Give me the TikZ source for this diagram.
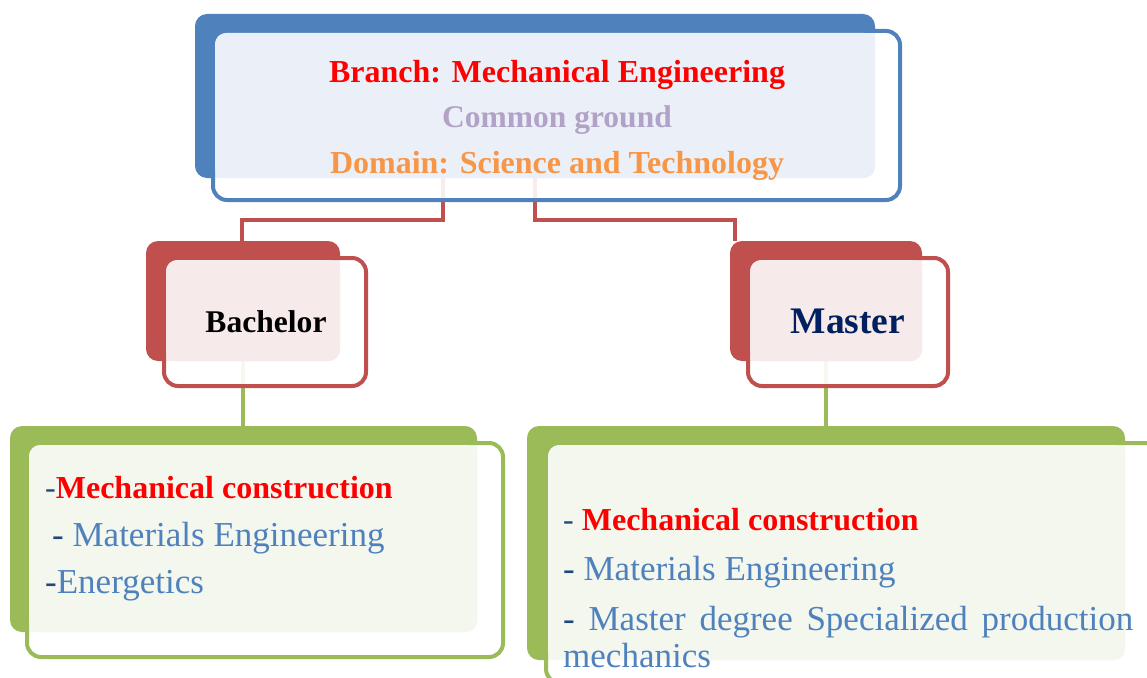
\documentclass[tikz,border=0pt]{standalone}
\usepackage{fontspec}
\setmainfont{Liberation Serif}
\usepackage{xcolor}
\usetikzlibrary{calc}

\definecolor{accblue}{HTML}{4F81BD}
\definecolor{tintblue}{HTML}{EBF0F8}
\definecolor{accred}{HTML}{C0504D}
\definecolor{tintred}{HTML}{F6EAEA}
\definecolor{accgreen}{HTML}{9BBB59}
\definecolor{tintgreen}{HTML}{F3F7EE}
\definecolor{lavender}{HTML}{B3A2C7}
\definecolor{orangeacc}{HTML}{F79646}
\definecolor{navy}{HTML}{002060}
\definecolor{dashcol}{HTML}{1F497D}

\begin{document}
\begin{tikzpicture}[x=1pt,y=-1pt,
    back/.style={rounded corners=12pt},
    front/.style={line width=4pt, fill=white, fill opacity=0.9, rounded corners=14pt},
    tint/.style={rounded corners=11pt},
    link/.style={line width=4pt},
    label/.style={anchor=base, inner sep=0pt},
    item/.style={anchor=base west, inner sep=0pt}]
        \clip (0,0) rectangle (1147,677);
        \fill[white] (0,0) rectangle (1147,677);

        % corners of the boxes: 1,2 = back block, 3,4 = framed front
        \coordinate (T1) at (195,14);  \coordinate (T2) at (875,178);
        \coordinate (T3) at (213,31);  \coordinate (T4) at (900,200);
        \coordinate (B1) at (146,241); \coordinate (B2) at (340,361);
        \coordinate (B3) at (164,258); \coordinate (B4) at (366,386);
        \coordinate (M1) at (730,241); \coordinate (M2) at (922,361);
        \coordinate (M3) at (748,258); \coordinate (M4) at (948,386);
        \coordinate (L1) at (10,426);  \coordinate (L2) at (477,632);
        \coordinate (L3) at (27,443);  \coordinate (L4) at (503,657);
        \coordinate (R1) at (527,426); \coordinate (R2) at (1125,660);
        \coordinate (R3) at (546,443); \coordinate (R4) at (1170,683);

        % ends of the links
        \coordinate (ta) at (443,178); \coordinate (ba) at (242,241);
        \coordinate (tb) at (535,178); \coordinate (mb) at (735,241);
        \coordinate (bl) at (243,361); \coordinate (ll) at (243,426);
        \coordinate (ml) at (826,361); \coordinate (rl) at (826,426);

        \draw[link, accred] (ta) -- ++(0,42) -| (ba);
        \draw[link, accred] (tb) -- ++(0,42) -| (mb);
        \draw[link, accgreen] (bl) -- (ll);
        \draw[link, accgreen] (ml) -- (rl);

        % top box
        \fill[back, accblue] (T1) rectangle (T2);
        \draw[front, draw=accblue] (T3) rectangle (T4);
        \fill[tint, tintblue] ($(T3)+(2,2)$) rectangle (T2);

        % Bachelor / Master
        \fill[back, accred] (B1) rectangle (B2);
        \draw[front, draw=accred] (B3) rectangle (B4);
        \fill[tint, tintred] ($(B3)+(2,2)$) rectangle (B2);
        \fill[back, accred] (M1) rectangle (M2);
        \draw[front, draw=accred] (M3) rectangle (M4);
        \fill[tint, tintred] ($(M3)+(2,2)$) rectangle (M2);

        % lists
        \fill[back, accgreen] (L1) rectangle (L2);
        \draw[front, draw=accgreen] (L3) rectangle (L4);
        \fill[tint, tintgreen] ($(L3)+(2,2)$) rectangle (L2);
        \fill[back, accgreen] (R1) rectangle (R2);
        \draw[front, draw=accgreen] (R3) rectangle (R4);
        \fill[tint, tintgreen] ($(R3)+(2,2)$) rectangle (R2);

        \node[label, text=red] (branch) at (557,82)
            {\fontsize{32}{34}\selectfont\bfseries Branch: Mechanical Engineering};
        \node[label, text=lavender] (common) at (557,127)
            {\fontsize{31.5}{34}\selectfont\bfseries Common ground};
        \node[label, text=orangeacc] (domain) at (557,173)
            {\fontsize{32}{34}\selectfont\bfseries Domain: Science and Technology};

        \node[label] (bach) at (266,332)
            {\fontsize{31.6}{34}\selectfont\bfseries Bachelor};
        \node[label, text=navy] (mast) at (848,333)
            {\fontsize{37.5}{40}\selectfont\bfseries Master};

        \node[item] (bl1) at (45,498)
            {\fontsize{32}{34}\selectfont{\color{dashcol}-}{\color{red}\bfseries Mechanical construction}};
        \node[item] (bl2) at (52,546)
            {\fontsize{35}{38}\selectfont{\color{dashcol}-} {\color{accblue}Materials Engineering}};
        \node[item] (bl3) at (45,593)
            {\fontsize{35}{38}\selectfont{\color{dashcol}-}{\color{accblue}Energetics}};

        \node[item] (ml1) at (563,530)
            {\fontsize{32}{34}\selectfont{\color{dashcol}-} {\color{red}\bfseries Mechanical construction}};
        \node[item] (ml2) at (563,580)
            {\fontsize{35}{38}\selectfont{\color{dashcol}-} {\color{accblue}Materials Engineering}};
        \node[item] (ml3) at (563,630)
            {\fontsize{35}{38}\selectfont\hbox to 570pt{\color{dashcol}-\hfill\color{accblue}Master\hfill degree\hfill Specialized\hfill production}};
        \node[item, text=accblue] (ml4) at (563,667)
            {\fontsize{35}{38}\selectfont mechanics};
    \end{tikzpicture}
\end{document}
